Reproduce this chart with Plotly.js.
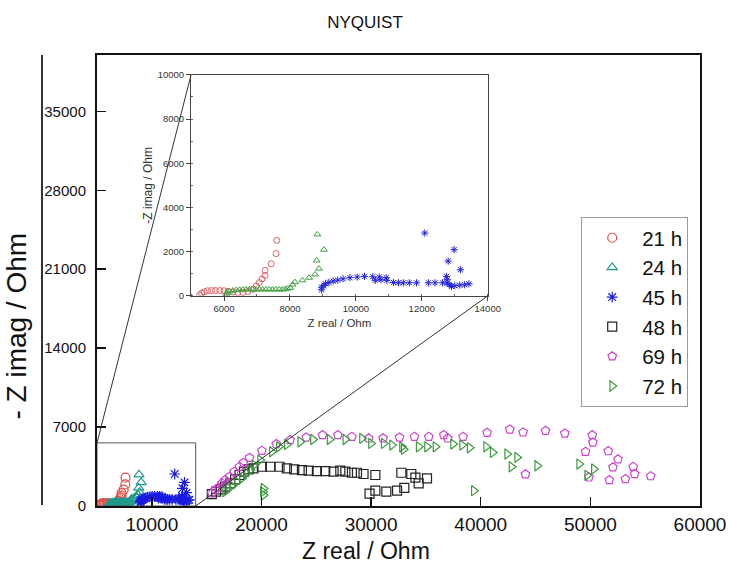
<!DOCTYPE html>
<html>
<head>
<meta charset="utf-8">
<script src="https://cdn.plot.ly/plotly-3.0.1.min.js"></script>
<style>html,body{margin:0;padding:0;background:#fff;}#chart{width:730px;height:569px;}</style>
</head>
<body>
<div id="chart"></div>
<script>
// ---- data (Z real / Ohm, -Z imag / Ohm) ----
const seriesNames = ["21 h", "24 h", "45 h", "48 h", "69 h", "72 h"];

const x21 = [5260,5320,5400,5500,5620,5740,5870,6000,6120,6270,6420,6570,6720,6880,6980,7070,7150,7245,7245,7430,7580,7600];
const y21 = [30,120,180,230,240,240,240,230,200,170,150,150,200,300,450,600,760,920,1150,1450,1910,2510];

const x24 = [6070,6100,6170,6270,6370,6470,6570,6670,6770,6870,6970,7070,7170,7270,7370,7470,7570,7670,7770,7850,7930,8010,8080,8150,8380,8580,8760,8880,8810,9030,8830];
const y24 = [75,150,200,240,260,275,285,290,290,290,290,290,290,290,290,290,290,290,290,300,330,360,510,620,700,820,970,1230,1600,2090,2780];

const x45 = [8960,8960,9030,9080,9180,9310,9450,9610,9820,10040,10260,10510,10590,10710,10760,10920,10940,11140,11290,11440,11620,11840,12200,12400,12630,12770,12750,12770,12830,12900,13000,13150,13300,13430,12090,12800,12980,13170];
const y45 = [270,390,470,545,605,665,710,770,820,850,880,860,700,850,730,820,700,605,590,590,590,590,590,590,590,575,880,730,515,425,455,485,500,545,2840,1570,2090,1180];

const x48 = [15470,15870,16290,16690,17150,17600,18000,18420,18820,19270,20040,20800,21650,22320,22990,23690,24300,25060,25820,26580,27190,27650,28250,28710,29310,30390,32760,33670,34040,34340,35100,29860,30390,31390,32370,33030];
const y48 = [1060,1270,1480,1710,2010,2360,2750,3040,3250,3340,3480,3480,3480,3340,3250,3190,3130,3100,3100,3040,3130,3040,2950,2950,2840,2750,2950,2840,2510,2010,2450,1090,1360,1270,1360,1600];

const x69 = [15470,15780,16080,16390,16690,17080,17510,18000,18360,18910,20040,21350,22620,24090,25570,26970,28250,29780,31090,32590,33950,35260,36630,36990,38390,40580,42650,43860,45910,47670,50170,50230,49560,51630,52520,52060,53910,54040,53190,51730,49870,44080,55500];
const y69 = [1120,1420,1650,2010,2300,2600,3040,3480,3840,4280,4900,5490,5850,6080,6290,6290,6140,6000,6000,6080,6140,6140,6290,6000,6140,6500,6790,6530,6670,6440,6290,5640,4810,4870,4140,3430,3480,2840,2390,2300,2540,2810,2650];

const x72 = [16690,16990,17300,17760,18210,18670,18970,19340,19880,20950,21590,22320,23540,24700,26210,27650,29170,29990,31150,31910,32820,32970,34340,35100,35870,37480,38300,38990,40490,41090,42410,43320,42810,45150,48980,50320,49710,39370,20190,20130,20190];
const y72 = [1270,1560,1770,2150,2450,2890,3190,3630,4080,4810,5250,5460,5700,5900,5900,5900,6000,5550,5550,5400,5250,5020,5250,5250,5250,5490,5400,5170,5250,4750,4610,4310,3480,3570,3720,3280,2720,1360,1560,1270,970];

// axis settings
const mainXRange = [5000, 60000];
const mainYRange = [0, 40000];
const insetXRange = [5000, 14000];
const insetYRange = [0, 10000];
const zoomBoxY = 5600;
const insetDomX = [0.156, 0.648];
const insetDomY = [0.466, 0.956];

const FONT = "Arial, 'Liberation Sans', sans-serif";

const mainColors = ["#e0504a", "#1f9a8c", "#1a1ae0", "#222222", "#cc44cc", "#3c9a3c"];
const insetColors = ["#e06060", "#3e9e3e", "#2222dd"];
const symbols = ["circle-open", "triangle-up-open", "asterisk-open", "square-open", "pentagon-open", "triangle-right-open"];
const xs = [x21, x24, x45, x48, x69, x72];
const ys = [y21, y24, y45, y48, y69, y72];

const traces = [];
for (let i = 0; i < 6; i++) {
  traces.push({
    type: "scatter", mode: "markers", name: seriesNames[i],
    x: xs[i], y: ys[i], xaxis: "x", yaxis: "y",
    marker: {symbol: symbols[i], size: 9, color: mainColors[i], line: {width: 1.2, color: mainColors[i]}},
    showlegend: true
  });
}
for (let i = 0; i < 3; i++) {
  traces.push({
    type: "scatter", mode: "markers", name: seriesNames[i],
    x: xs[i], y: ys[i], xaxis: "x2", yaxis: "y2",
    marker: {symbol: symbols[i], size: 6, color: insetColors[i], line: {width: 1, color: insetColors[i]}},
    showlegend: false
  });
}

// paper coordinates of zoom box corners
const px = v => (v - mainXRange[0]) / (mainXRange[1] - mainXRange[0]);
const py = v => (v - mainYRange[0]) / (mainYRange[1] - mainYRange[0]);

const shapes = [
  {type: "rect", xref: "x", yref: "y", x0: insetXRange[0], x1: insetXRange[1], y0: 0, y1: zoomBoxY,
   line: {color: "#555", width: 1}},
  {type: "line", xref: "paper", yref: "paper", x0: px(insetXRange[0]), y0: py(zoomBoxY), x1: insetDomX[0], y1: insetDomY[1],
   line: {color: "#333", width: 1}},
  {type: "line", xref: "paper", yref: "paper", x0: px(insetXRange[1]), y0: 0, x1: insetDomX[1], y1: insetDomY[0],
   line: {color: "#333", width: 1}},
  {type: "line", xref: "paper", yref: "paper", x0: -0.0912, x1: -0.0912, y0: 0.002, y1: 1,
   line: {color: "#333", width: 2}}
];

const annotations = [
  {text: "Z real / Ohm", xref: "paper", yref: "paper", x: 0.446, y: -0.0998, xanchor: "center", yanchor: "middle",
   showarrow: false, font: {size: 23, family: FONT, color: "#111"}},
  {text: "- Z imag / Ohm", xref: "paper", yref: "paper", x: -0.1327, y: 0.40, xanchor: "center", yanchor: "middle",
   textangle: -90, showarrow: false, font: {size: 28, family: FONT, color: "#111"}}
];

const layout = {
  width: 730, height: 569,
  margin: {l: 97, r: 30, t: 55, b: 63},
  paper_bgcolor: "#fff", plot_bgcolor: "#fff",
  font: {family: FONT, color: "#111"},
  title: {text: "NYQUIST", font: {size: 17, family: FONT, color: "#111"}, x: 0.5, xanchor: "center", y: 0.962, yanchor: "middle"},
  xaxis: {
    range: mainXRange, dtick: 10000, tick0: 0, tickformat: "d", ticks: "inside", ticklen: 9, tickwidth: 1.5, tickcolor: "#111",
    showgrid: false, zeroline: false, showline: true, mirror: true, linecolor: "#111", linewidth: 2,
    tickfont: {size: 19, family: FONT, color: "#111"},
    domain: [0, 1], anchor: "y"
  },
  yaxis: {
    range: mainYRange, dtick: 7000, tick0: 0, tickformat: "d", ticks: "inside", ticklen: 9, tickwidth: 1.5, tickcolor: "#111",
    showgrid: false, zeroline: false, showline: true, mirror: true, linecolor: "#111", linewidth: 2,
    tickfont: {size: 15, family: FONT, color: "#111"}, ticklabelstandoff: 6,
    domain: [0, 1], anchor: "x"
  },
  xaxis2: {
    range: insetXRange, tickvals: [6000, 8000, 10000, 12000, 14000], tickformat: "d", ticks: "outside", ticklen: 4, tickcolor: "#444",
    minor: {ticks: "inside", ticklen: 2, dtick: 1000, tickcolor: "#666"},
    showgrid: false, zeroline: false, showline: true, mirror: true, linecolor: "#444", linewidth: 1,
    tickfont: {size: 9.5, family: FONT, color: "#333"},
    title: {text: "Z real / Ohm", font: {size: 11.5, family: FONT, color: "#333"}, standoff: 5},
    domain: insetDomX, anchor: "y2"
  },
  yaxis2: {
    range: insetYRange, dtick: 2000, tickformat: "d", ticks: "outside", ticklen: 4, tickcolor: "#444",
    minor: {ticks: "inside", ticklen: 2, dtick: 1000, tickcolor: "#666"},
    showgrid: false, zeroline: false, showline: true, mirror: true, linecolor: "#444", linewidth: 1,
    tickfont: {size: 9.5, family: FONT, color: "#333"},
    title: {text: "-Z imag / Ohm", font: {size: 12, family: FONT, color: "#333"}, standoff: 2},
    domain: insetDomY, anchor: "x2"
  },
  legend: {
    x: 0.803, y: 0.641, xanchor: "left", yanchor: "top",
    bgcolor: "#fff", bordercolor: "#999", borderwidth: 1,
    font: {size: 20.5, family: FONT, color: "#111"},
    itemwidth: 50, tracegroupgap: 0
  },
  shapes: shapes,
  annotations: annotations
};

Plotly.newPlot("chart", traces, layout, {staticPlot: true, displayModeBar: false});
</script>
</body>
</html>
